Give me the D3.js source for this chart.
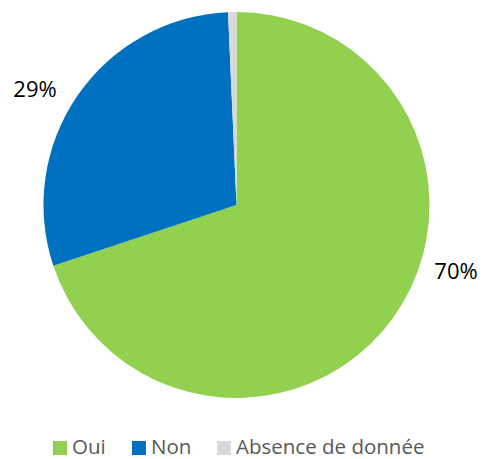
<!DOCTYPE html>
<html><head><meta charset="utf-8">
<script src="https://cdn.jsdelivr.net/npm/d3@7"></script>
<style>body{margin:0;background:#fff}svg{display:block}</style>
</head><body>
<script>
const categories = ["Oui", "Non", "Absence de donnée"];
const values = [69.9, 29.4, 0.7];
const labels = ["70%", "29%", ""];
const colors = ["#92D050", "#0070C0", "#D9D9D9"];

const W = 483, H = 459;
const cx = 236.5, cy = 205, r = 193;
const svg = d3.select("body").append("svg").attr("width", W).attr("height", H);

const data = categories.map((c, i) => ({cat: c, value: values[i], label: labels[i], color: colors[i]}));
const pie = d3.pie().value(d => d.value).sort(null);
const arc = d3.arc().innerRadius(0).outerRadius(r);
const arcs = pie(data);

const g = svg.append("g").attr("transform", `translate(${cx},${cy})`);
g.selectAll("path").data(arcs).join("path")
  .attr("d", arc).attr("fill", d => d.data.color);

const font = "'Open Sans', 'Liberation Sans', sans-serif";
const labelPos = [[456, 279], [35, 97]];
arcs.forEach((a, i) => {
  if (!a.data.label) return;
  svg.append("text").attr("x", labelPos[i][0]).attr("y", labelPos[i][1])
    .attr("text-anchor", "middle").attr("font-family", font).attr("font-size", 22)
    .attr("fill", "#000").text(a.data.label);
});

const legendX = [53, 132, 217];
const lg = svg.append("g");
data.forEach((d, i) => {
  lg.append("rect").attr("x", legendX[i]).attr("y", 441).attr("width", 14).attr("height", 14).attr("fill", d.color);
  lg.append("text").attr("x", legendX[i] + 19).attr("y", 454)
    .attr("font-family", font).attr("font-size", 20.5).attr("fill", "#595959").text(d.cat);
});
</script>
</body></html>
